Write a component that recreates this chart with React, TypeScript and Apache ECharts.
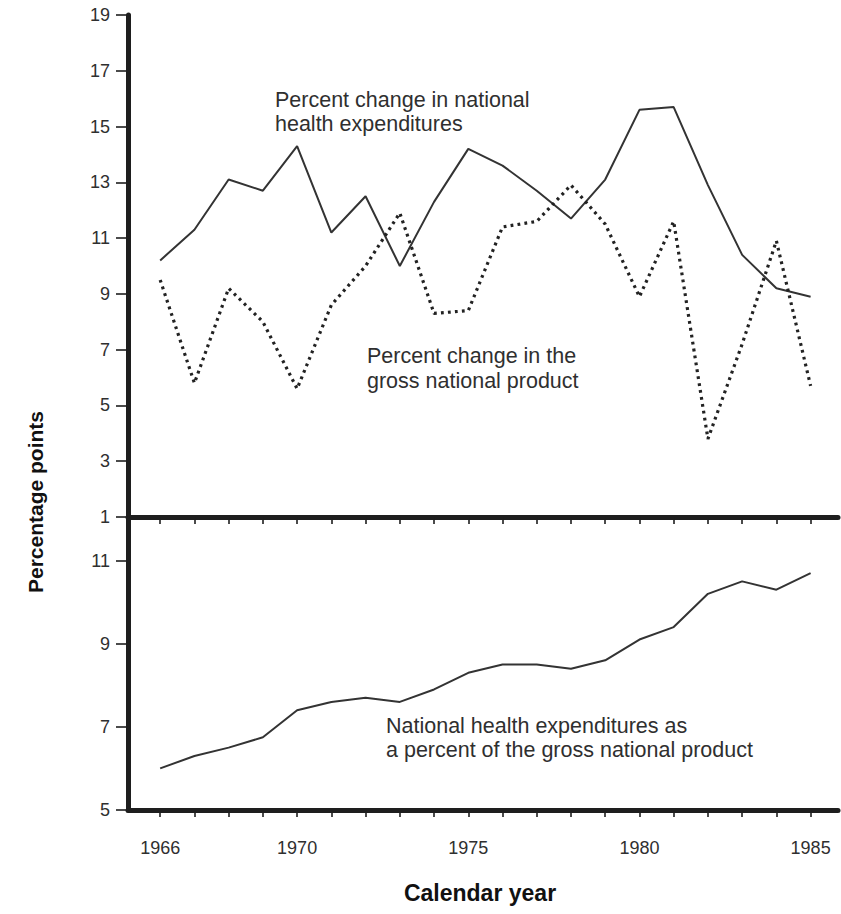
import React, { useEffect, useRef } from "react";
import * as echarts from "echarts";

const years = [1966, 1967, 1968, 1969, 1970, 1971, 1972, 1973, 1974, 1975, 1976, 1977, 1978, 1979, 1980, 1981, 1982, 1983, 1984, 1985];
const nheChange = [10.2, 11.3, 13.1, 12.7, 14.3, 11.2, 12.5, 10.0, 12.3, 14.2, 13.6, 12.7, 11.7, 13.1, 15.6, 15.7, 12.9, 10.4, 9.2, 8.9];
const gnpChange = [9.5, 5.8, 9.2, 8.0, 5.6, 8.6, 10.0, 11.9, 8.3, 8.4, 11.4, 11.6, 12.9, 11.5, 8.9, 11.6, 3.8, 7.2, 10.9, 5.7];
const nheShare = [6.0, 6.3, 6.5, 6.75, 7.4, 7.6, 7.7, 7.6, 7.9, 8.3, 8.5, 8.5, 8.4, 8.6, 9.1, 9.4, 10.2, 10.5, 10.3, 10.7];
const yearLabels = [1966, 1970, 1975, 1980, 1985];
const topTicks = [1, 3, 5, 7, 9, 11, 13, 15, 17, 19];
const bottomTicks = [5, 7, 9, 11];

const FONT = '"Liberation Sans", Arial, Helvetica, sans-serif';
const INK = "#2f2f2f";

const pairs = (vals: number[]) => years.map((y, i) => [y, vals[i]]);

export default function App() {
  const ref = useRef<HTMLDivElement>(null);
  useEffect(() => {
    const chart = echarts.init(ref.current!, null, { renderer: "svg", width: 841, height: 914 });
    const axisLine = { show: true, onZero: false, lineStyle: { color: "#1e1e1e", width: 5 } };
    const xBase = (gi: number, labels: boolean) => ({
      gridIndex: gi,
      type: "value",
      min: 1965.06,
      max: 1985.8,
      axisLine,
      axisTick: { show: true, customValues: years, length: 7, lineStyle: { color: "#1e1e1e", width: 1.6 } },
      axisLabel: labels
        ? { show: true, customValues: yearLabels, margin: 29, fontSize: 18, color: INK, fontFamily: FONT, formatter: (v: number) => String(v) }
        : { show: false },
      splitLine: { show: false },
    });
    const yBase = (gi: number, min: number, max: number, ticks: number[]) => ({
      gridIndex: gi,
      type: "value",
      min,
      max,
      axisLine,
      axisTick: { show: true, customValues: ticks, length: 12, lineStyle: { color: "#1e1e1e", width: 1.6 } },
      axisLabel: { show: true, customValues: ticks, margin: 18, fontSize: 18, color: INK, fontFamily: FONT, formatter: (v: number) => String(v) },
      splitLine: { show: false },
    });
    chart.setOption({
      animation: false,
      backgroundColor: "#ffffff",
      grid: [
        { left: 128, top: 15, width: 710, height: 502 },
        { left: 128, top: 519, width: 710, height: 291 },
      ],
      xAxis: [xBase(0, false), xBase(1, true)],
      yAxis: [yBase(0, 1, 19, topTicks), yBase(1, 5, 12, bottomTicks)],
      series: [
        {
          name: "Percent change in national health expenditures",
          type: "line",
          xAxisIndex: 0,
          yAxisIndex: 0,
          data: pairs(nheChange),
          symbol: "none",
          lineStyle: { color: "#333", width: 2 },
        },
        {
          name: "Percent change in the gross national product",
          type: "line",
          xAxisIndex: 0,
          yAxisIndex: 0,
          data: pairs(gnpChange),
          symbol: "none",
          lineStyle: { color: "#222", width: 3.2, type: [2.8, 4.2] },
        },
        {
          name: "National health expenditures as a percent of the gross national product",
          type: "line",
          xAxisIndex: 1,
          yAxisIndex: 1,
          data: pairs(nheShare),
          symbol: "none",
          lineStyle: { color: "#333", width: 2 },
        },
      ],
      graphic: [
        {
          type: "text",
          x: 275,
          y: 88,
          style: { text: "Percent change in national\nhealth expenditures", font: `21.5px ${FONT}`, lineHeight: 24, fill: INK },
        },
        {
          type: "text",
          x: 367,
          y: 343,
          style: { text: "Percent change in the\ngross national product", font: `21.5px ${FONT}`, lineHeight: 25, fill: INK },
        },
        {
          type: "text",
          x: 386,
          y: 714,
          style: { text: "National health expenditures as\na percent of the gross national product", font: `21.5px ${FONT}`, lineHeight: 24, fill: INK },
        },
        {
          type: "text",
          x: 35,
          y: 502,
          rotation: Math.PI / 2,
          style: { text: "Percentage points", font: `bold 21px ${FONT}`, fill: "#111", align: "center", verticalAlign: "middle", textAlign: "center", textVerticalAlign: "middle" },
        },
        {
          type: "text",
          x: 480,
          y: 893,
          style: { text: "Calendar year", font: `bold 23px ${FONT}`, fill: "#111", align: "center", verticalAlign: "middle", textAlign: "center", textVerticalAlign: "middle" },
        },
      ],
    });
    return () => chart.dispose();
  }, []);
  return (
    <div
      ref={ref}
      style={{ position: "absolute", left: 0, top: 0, width: 841, height: 914, background: "#fff" }}
    />
  );
}
